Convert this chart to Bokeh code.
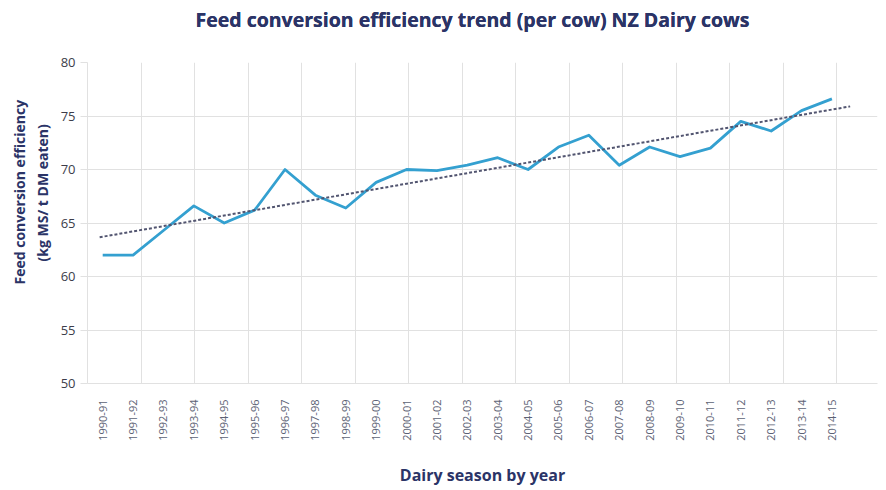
import numpy as np
from bokeh.plotting import figure
from bokeh.models import FixedTicker, LinearAxis, Range1d, Title
from bokeh.embed import file_html
from bokeh.resources import INLINE

# Dairy seasons and feed conversion efficiency (kg MS / t DM eaten)
seasons = [
    "1990-91", "1991-92", "1992-93", "1993-94", "1994-95", "1995-96",
    "1996-97", "1997-98", "1998-99", "1999-00", "2000-01", "2001-02",
    "2002-03", "2003-04", "2004-05", "2005-06", "2006-07", "2007-08",
    "2008-09", "2009-10", "2010-11", "2011-12", "2012-13", "2013-14",
    "2014-15",
]
efficiency = [
    62.0, 62.0, 64.3, 66.6, 65.0, 66.2, 70.0, 67.6, 66.4, 68.8,
    70.0, 69.9, 70.4, 71.1, 70.0, 72.1, 73.2, 70.4, 72.1, 71.2,
    72.0, 74.5, 73.6, 75.5, 76.6,
]
y_ticks = [50, 55, 60, 65, 70, 75, 80]

NAVY = "#2b3467"
LINE_BLUE = "#34a0d0"
TREND = "#525570"
GRID = "#e1e1e1"
FONT = "Open Sans"

idx = np.arange(len(seasons))

# linear trend (least squares), extended a little past the last season
slope, intercept = np.polyfit(idx, efficiency, 1)
TREND_BACK, TREND_FORWARD = 0.1, 0.6
trend_x = np.array([idx[0] - TREND_BACK, idx[-1] + TREND_FORWARD])
trend_y = intercept + slope * trend_x

p = figure(
    width=886, height=490,
    x_range=Range1d(-0.5, len(seasons) + 0.5),
    y_range=Range1d(y_ticks[0], y_ticks[-1]),
    output_backend="svg", toolbar_location=None,
    min_border_left=87, min_border_right=9,
    min_border_top=62, min_border_bottom=107,
    background_fill_color="white", border_fill_color="white",
)
p.outline_line_color = None

# vertical grid lines on their own spacing
GRID_STEP = 1.761
p.xgrid.ticker = FixedTicker(ticks=list(-0.5 + GRID_STEP * np.arange(1, 15)))
p.xgrid.grid_line_color = GRID
p.ygrid.grid_line_color = GRID

# x axis: one rotated label per season
p.xaxis.ticker = FixedTicker(ticks=list(idx))
p.xaxis.major_label_overrides = {int(i): s for i, s in zip(idx, seasons)}
p.xaxis.major_label_orientation = np.pi / 2
p.xaxis.major_label_text_font = FONT
p.xaxis.major_label_text_font_size = "11px"
p.xaxis.major_label_text_color = "#5c6274"
p.xaxis.major_tick_line_color = None
p.xaxis.minor_tick_line_color = None
p.xaxis.axis_line_color = GRID
p.xaxis.major_label_standoff = 10
p.xaxis.axis_label = "Dairy season by year"
p.xaxis.axis_label_text_font = FONT
p.xaxis.axis_label_text_font_style = "bold"
p.xaxis.axis_label_text_font_size = "16px"
p.xaxis.axis_label_text_color = NAVY
p.xaxis.axis_label_standoff = 20

# y axis
p.yaxis.ticker = FixedTicker(ticks=y_ticks)
p.yaxis.major_label_text_font = FONT
p.yaxis.major_label_text_font_size = "13px"
p.yaxis.major_label_text_color = "#3d3d4a"
p.yaxis.major_tick_line_color = GRID
p.yaxis.major_tick_out = 7
p.yaxis.major_tick_in = 0
p.yaxis.minor_tick_line_color = None
p.yaxis.axis_line_color = GRID
p.yaxis.major_label_standoff = 5

# chart title, held off the frame by a blank, tickless axis
# (added after the x axis styling so that styling does not reach it)
p.title.text = "Feed conversion efficiency trend (per cow) NZ Dairy cows"
p.title.text_font = FONT
p.title.text_font_style = "bold"
p.title.text_font_size = "19.5px"
p.title.text_color = NAVY
p.title.align = "left"
p.title.offset = 108
p.title.vertical_align = "middle"
p.title.standoff = 0
gap_axis = LinearAxis(
    ticker=FixedTicker(ticks=[]), axis_line_color=None,
    major_tick_line_color=None, minor_tick_line_color=None,
    major_tick_in=0, major_tick_out=28, minor_tick_in=0, minor_tick_out=0,
    major_label_standoff=0,
)
p.above = [gap_axis, p.title]

# two-line y axis title, each line measured up from the frame's bottom
y_title_unit = Title(
    text="(kg MS/ t DM eaten)", align="left", offset=122,
    vertical_align="top", standoff=8,
    text_font=FONT, text_font_style="bold", text_font_size="14px",
    text_color=NAVY,
)
y_title_main = Title(
    text="Feed conversion efficiency", align="left", offset=99,
    vertical_align="bottom", standoff=0,
    text_font=FONT, text_font_style="bold", text_font_size="14px",
    text_color=NAVY,
)
p.add_layout(y_title_unit, "left")
p.add_layout(y_title_main, "left")

# data series and dotted trend
p.line(idx, efficiency, line_color=LINE_BLUE, line_width=2.8, line_join="round")
p.line(trend_x, trend_y, line_color=TREND, line_width=2, line_dash="3 2")

open("out.html", "w").write(file_html(p, INLINE))
